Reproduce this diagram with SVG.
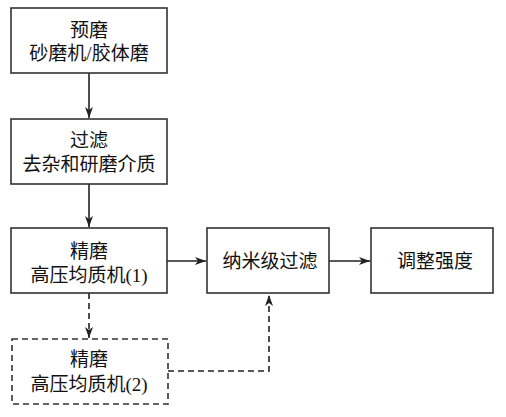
<svg xmlns="http://www.w3.org/2000/svg" width="506" height="417" viewBox="0 0 506 417">
<style>
.box{fill:#fff;stroke:#333;stroke-width:1.6}
.dash{stroke-dasharray:6 4}
.t{font-family:"Liberation Serif","Noto Sans CJK SC",serif;font-size:19px;fill:#111;text-anchor:middle}
.c{fill:none;stroke:#222;stroke-width:1.6}
</style>
<defs>
<marker id="ah" markerWidth="12" markerHeight="10" refX="11" refY="5" orient="auto" markerUnits="userSpaceOnUse">
<path d="M0,1 L11,5 L0,9 L3,5 Z" fill="#222"/>
</marker>
</defs>
<rect width="506" height="417" fill="#fff"/>
<g id="connectors">
<line class="c" x1="89" y1="73" x2="89" y2="118" marker-end="url(#ah)"/>
<line class="c" x1="89" y1="184" x2="89" y2="227" marker-end="url(#ah)"/>
<line class="c" x1="167" y1="261" x2="206" y2="261" marker-end="url(#ah)"/>
<line class="c" x1="329" y1="261" x2="370" y2="261" marker-end="url(#ah)"/>
<line class="c dash" x1="89" y1="293" x2="89" y2="338" marker-end="url(#ah)"/>
<polyline class="c dash" points="168,371 269,371 269,295" marker-end="url(#ah)"/>
</g>
<g id="n1">
<rect class="box" x="11" y="8" width="156" height="65"/>
<text class="t" x="89" y="37">预磨</text>
<text class="t" x="89" y="60">砂磨机/胶体磨</text>
</g>
<g id="n2">
<rect class="box" x="11" y="119" width="156" height="65"/>
<text class="t" x="89" y="147">过滤</text>
<text class="t" x="89" y="171">去杂和研磨介质</text>
</g>
<g id="n3">
<rect class="box" x="11" y="228" width="156" height="65"/>
<text class="t" x="89" y="258">精磨</text>
<text class="t" x="89" y="282">高压均质机(1)</text>
</g>
<g id="n4">
<rect class="box dash" x="12" y="339" width="156" height="65"/>
<text class="t" x="89" y="366">精磨</text>
<text class="t" x="89" y="391">高压均质机(2)</text>
</g>
<g id="n5">
<rect class="box" x="207" y="228" width="122" height="65"/>
<text class="t" x="270" y="268">纳米级过滤</text>
</g>
<g id="n6">
<rect class="box" x="371" y="228" width="122" height="65"/>
<text class="t" x="435" y="268">调整强度</text>
</g>
</svg>
